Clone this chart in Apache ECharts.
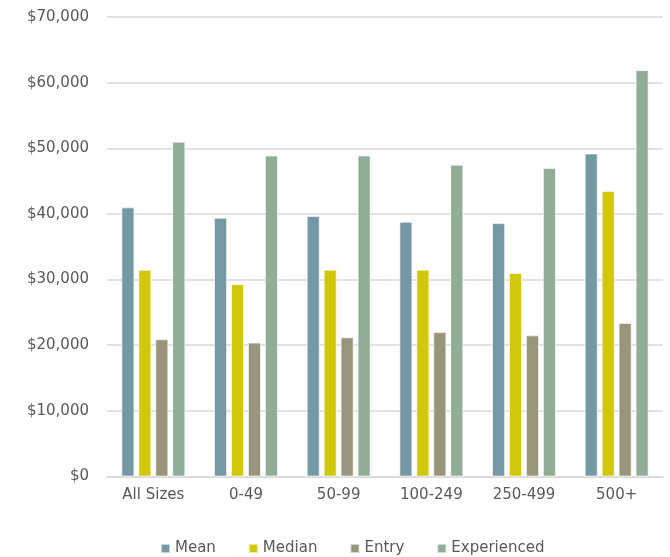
<!DOCTYPE html>
<html>
<head>
<meta charset="utf-8">
<script src="https://cdn.jsdelivr.net/npm/echarts@6/dist/echarts.min.js"></script>
<style>
html,body{margin:0;padding:0;background:#fff;}
#chart{width:670px;height:557px;}
</style>
</head>
<body>
<div id="chart"></div>
<script>
const categories = ['All Sizes', '0-49', '50-99', '100-249', '250-499', '500+'];
const meanValues = [41000, 39400, 39700, 38800, 38600, 49200];
const medianValues = [31500, 29300, 31500, 31500, 31000, 43500];
const entryValues = [20900, 20400, 21200, 22000, 21500, 23400];
const experiencedValues = [51000, 48900, 48900, 47500, 47000, 61900];
const seriesNames = ['Mean', 'Median', 'Entry', 'Experienced'];
const colors = ['#7599a4', '#d1c70b', '#99957b', '#91ad95'];

const font = '"DejaVu Sans", sans-serif';
const chart = echarts.init(document.getElementById('chart'), null, {renderer: 'canvas'});
const allValues = [meanValues, medianValues, entryValues, experiencedValues];
chart.setOption({
  animation: false,
  color: colors,
  grid: {left: 107, right: 7, top: 17, bottom: 80.5, containLabel: false},
  legend: {
    data: seriesNames,
    top: 536,
    left: 155,
    itemWidth: 9,
    itemHeight: 9,
    itemGap: 32,
    icon: 'rect',
    textStyle: {color: '#595959', fontSize: 15, fontFamily: font}
  },
  xAxis: {
    type: 'category',
    data: categories,
    axisLine: {show: true, lineStyle: {color: '#d9d9d9', width: 1.5}},
    axisTick: {show: false},
    axisLabel: {color: '#595959', fontSize: 15, fontFamily: font, margin: 11}
  },
  yAxis: {
    type: 'value',
    min: 0,
    max: 70000,
    interval: 10000,
    axisLine: {show: false},
    axisTick: {show: false},
    splitLine: {lineStyle: {color: '#d9d9d9', width: 1.5}},
    axisLabel: {
      color: '#595959', fontSize: 15, fontFamily: font, margin: 18,
      formatter: v => '$' + v.toLocaleString('en-US')
    }
  },
  series: seriesNames.map((n, i) => ({
    name: n,
    type: 'bar',
    data: allValues[i],
    barGap: '30%',
    barCategoryGap: '31%',
    itemStyle: {color: colors[i], borderColor: 'rgba(255,255,255,0.6)', borderWidth: 1}
  }))
});
</script>
</body>
</html>
